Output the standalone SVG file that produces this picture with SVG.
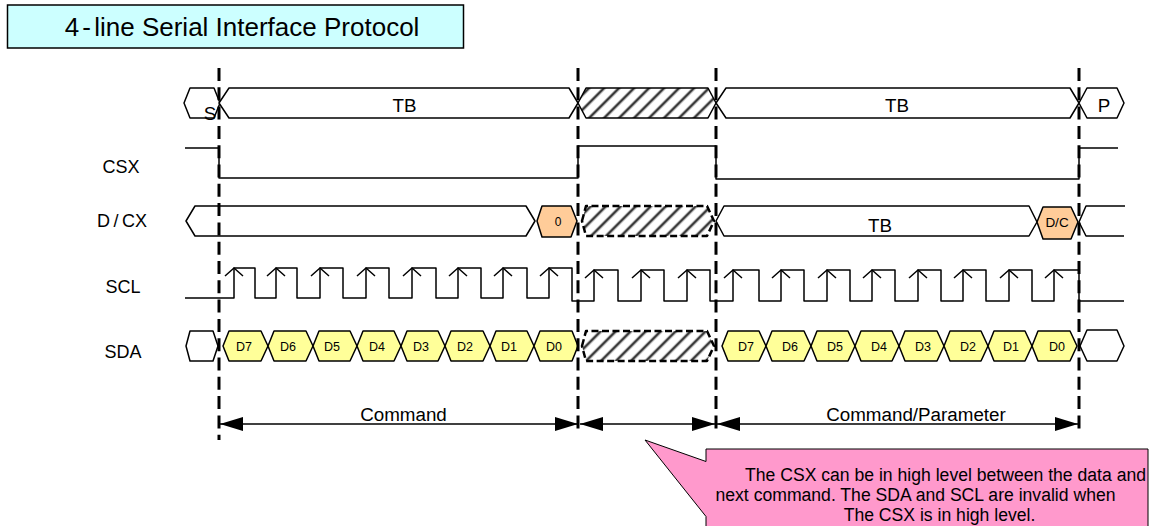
<svg xmlns="http://www.w3.org/2000/svg" width="1152" height="526" viewBox="0 0 1152 526">
<style>
text{font-family:"Liberation Sans",Arial,sans-serif;fill:#000;text-anchor:middle}
.w{fill:#fff;stroke:#000;stroke-width:1.5;stroke-linejoin:round}
.o{fill:none;stroke:#000;stroke-width:1.5;stroke-linejoin:round}
.y{fill:#ffff99;stroke:#000;stroke-width:1.5;stroke-linejoin:round}
.r{fill:#ffcc99;stroke:#000;stroke-width:1.5;stroke-linejoin:round}
.h{fill:url(#hatch);stroke:#000;stroke-width:1.5;stroke-linejoin:round}
.hd{fill:url(#hatch);stroke:#000;stroke-width:2.5;stroke-dasharray:7 3.5;stroke-linejoin:round}
.v{stroke:#000;stroke-width:3;stroke-dasharray:13 6.3;fill:none}
.l{font-size:18.8px}
.n{font-size:18px}
.d{font-size:12.5px}
.c{font-size:17.6px}
.a{stroke:#000;stroke-width:1.5;fill:none;marker-start:url(#ah);marker-end:url(#ah)}
</style>
<defs>
<pattern id="hatch" patternUnits="userSpaceOnUse" width="10.6" height="10.6" patternTransform="rotate(-45)">
<rect width="10.6" height="10.6" fill="#fff"/>
<rect width="10.6" height="3.6" y="0" fill="#aaa"/>
<rect width="10.6" height="1.6" y="1" fill="#222"/>
</pattern>
<marker id="ah" viewBox="0 0 23 14" refX="23" refY="7" markerWidth="23" markerHeight="14" markerUnits="userSpaceOnUse" orient="auto-start-reverse"><path d="M0 0L23 7L0 14Z" fill="#000"/></marker>
</defs>

<g id="title"><rect x="7.5" y="5" width="456" height="43" fill="#ccffff" stroke="#000" stroke-width="1.5"/><text x="242" y="35.5" font-size="26px"><tspan word-spacing="-4">4 - line</tspan> Serial Interface Protocol</text></g>

<g id="label-csx"><text x="121" y="173" class="n">CSX</text></g>
<g id="label-dcx"><text x="122" y="227" class="n" word-spacing="-1.5">D / CX</text></g>
<g id="label-scl"><text x="123" y="293" class="n">SCL</text></g>
<g id="label-sda"><text x="123" y="358" class="n">SDA</text></g>

<g id="row-bus">
<path class="w" d="M184 103L190 88H214L220 103L214 118H190Z"/>
<path class="w" d="M219 103L229 88H569L578 103L569 118H229Z"/>
<path class="h" d="M578 103L586 88H708L716 103L708 118H586Z"/>
<path class="w" d="M716 103L726 88H1070L1079 103L1070 118H726Z"/>
<path class="w" d="M1079 103L1087 88H1117L1124 103L1117 118H1087Z"/>
<text x="210" y="120" class="l">S</text><text x="404.5" y="112" class="l">TB</text><text x="897" y="112" class="l">TB</text><text x="1104" y="112" class="l">P</text>
</g>

<g id="row-csx"><path class="o" d="M185 148H219V178H578V146H716V179H1079V148H1118"/></g>

<g id="row-dcx">
<path class="w" d="M186 221L195 206H526L535 221L526 236H195Z"/>
<path class="r" d="M537 221L542 206H571L577 221L571 237H542Z"/>
<path class="hd" d="M582 221L586 206H707L714 221L707 236H586Z"/>
<path class="o" d="M1125 206H1086L1079 222L1086 236H1124"/>
<path class="w" d="M716 221L724 206H1029L1037 222L1029 236H724Z"/>
<path class="r" d="M1037 222L1043 207H1071L1078 222L1071 239H1043Z"/>
<text x="558" y="226" font-size="12px">0</text><text x="880" y="232" class="l">TB</text><text x="1057" y="227" font-size="13.5px">D/C</text>
</g>

<g id="row-scl">
<path class="o" d="M185 298H234V268H255V298H276V268H297V298H320V268H343V298H366V268H389V298H412V268H436V298H458V268H481V298H503V268H527V298H549V268H572V301H594V270H618V301H641V270H664V301H687V270H710V301H733V270H759V301H781V270H804V301H827V270H850V301H872V270H895V301H918V270H941V301H963V270H986V301H1009V270H1032V301H1054V270H1079V301H1124"/>
<path class="o" d="M225 276L234 268L243 276M267 276L276 268L285 276M311 276L320 268L329 276M357 276L366 268L375 276M403 276L412 268L421 276M449 276L458 268L467 276M494 276L503 268L512 276M540 276L549 268L558 276M585 278L594 270L603 278M632 278L641 270L650 278M678 278L687 270L696 278M724 278L733 270L742 278M772 278L781 270L790 278M818 278L827 270L836 278M863 278L872 270L881 278M909 278L918 270L927 278M954 278L963 270L972 278M1000 278L1009 270L1018 278M1045 278L1054 270L1063 278"/>
</g>

<g id="row-sda">
<path class="w" d="M186 346L190 331H213L218 346L213 361H190Z"/>
<path class="y" d="M223 346L229 331H261L268 346L261 361H229Z"/>
<path class="y" d="M268 346L274 331H306L313 346L306 361H274Z"/>
<path class="y" d="M313 346L319 331H350L357 346L350 361H319Z"/>
<path class="y" d="M357 346L363 331H394L401 346L394 361H363Z"/>
<path class="y" d="M401 346L407 331H438L445 346L438 361H407Z"/>
<path class="y" d="M445 346L451 331H483L490 346L483 361H451Z"/>
<path class="y" d="M490 346L496 331H527L534 346L527 361H496Z"/>
<path class="y" d="M534 346L540 331H572L578 346L572 361H540Z"/>
<path class="hd" d="M582 346L586 331H707L714 346L707 361H586Z"/>
<path class="y" d="M722 346L728 331H759L766 346L759 361H728Z"/>
<path class="y" d="M766 346L772 331H804L811 346L804 361H772Z"/>
<path class="y" d="M811 346L817 331H848L855 346L848 361H817Z"/>
<path class="y" d="M855 346L861 331H892L899 346L892 361H861Z"/>
<path class="y" d="M899 346L905 331H937L944 346L937 361H905Z"/>
<path class="y" d="M944 346L950 331H981L988 346L981 361H950Z"/>
<path class="y" d="M988 346L994 331H1025L1032 346L1025 361H994Z"/>
<path class="y" d="M1032 346L1038 331H1070L1077 346L1070 361H1038Z"/>
<path class="w" d="M1080 346L1087 330H1117L1124 346L1117 361H1087Z"/>
<text class="d" x="244" y="351">D7</text><text class="d" x="288" y="351">D6</text><text class="d" x="332" y="351">D5</text><text class="d" x="377" y="351">D4</text><text class="d" x="421" y="351">D3</text><text class="d" x="465" y="351">D2</text><text class="d" x="509" y="351">D1</text><text class="d" x="554" y="351">D0</text>
<text class="d" x="746" y="351">D7</text><text class="d" x="790" y="351">D6</text><text class="d" x="835" y="351">D5</text><text class="d" x="879" y="351">D4</text><text class="d" x="923" y="351">D3</text><text class="d" x="968" y="351">D2</text><text class="d" x="1011" y="351">D1</text><text class="d" x="1057" y="351">D0</text>
</g>

<g id="connectors">
<path class="v" d="M219 68V440"/><path class="v" d="M578 68V433"/><path class="v" d="M716 68V433"/><path class="v" d="M1079 68V433"/>
<path class="a" d="M220 424H578"/><path class="a" d="M580 424H715"/><path class="a" d="M717 424H1078"/>
</g>
<g id="label-command"><text x="403.5" y="420.5" class="l">Command</text><text x="916" y="420.5" class="l">Command/Parameter</text></g>

<g id="callout">
<path d="M1148 449H706V461.5L645 440L706 516.5V530H1148Z" fill="#ff99cc" stroke="#000" stroke-width="1"/>
<text x="945.5" y="481" class="c">The CSX can be in high level between the data and</text>
<text x="915.5" y="501" class="c">next command. The SDA and SCL are invalid when</text>
<text x="939.5" y="521" class="c">The CSX is in high level.</text>
</g>
</svg>
